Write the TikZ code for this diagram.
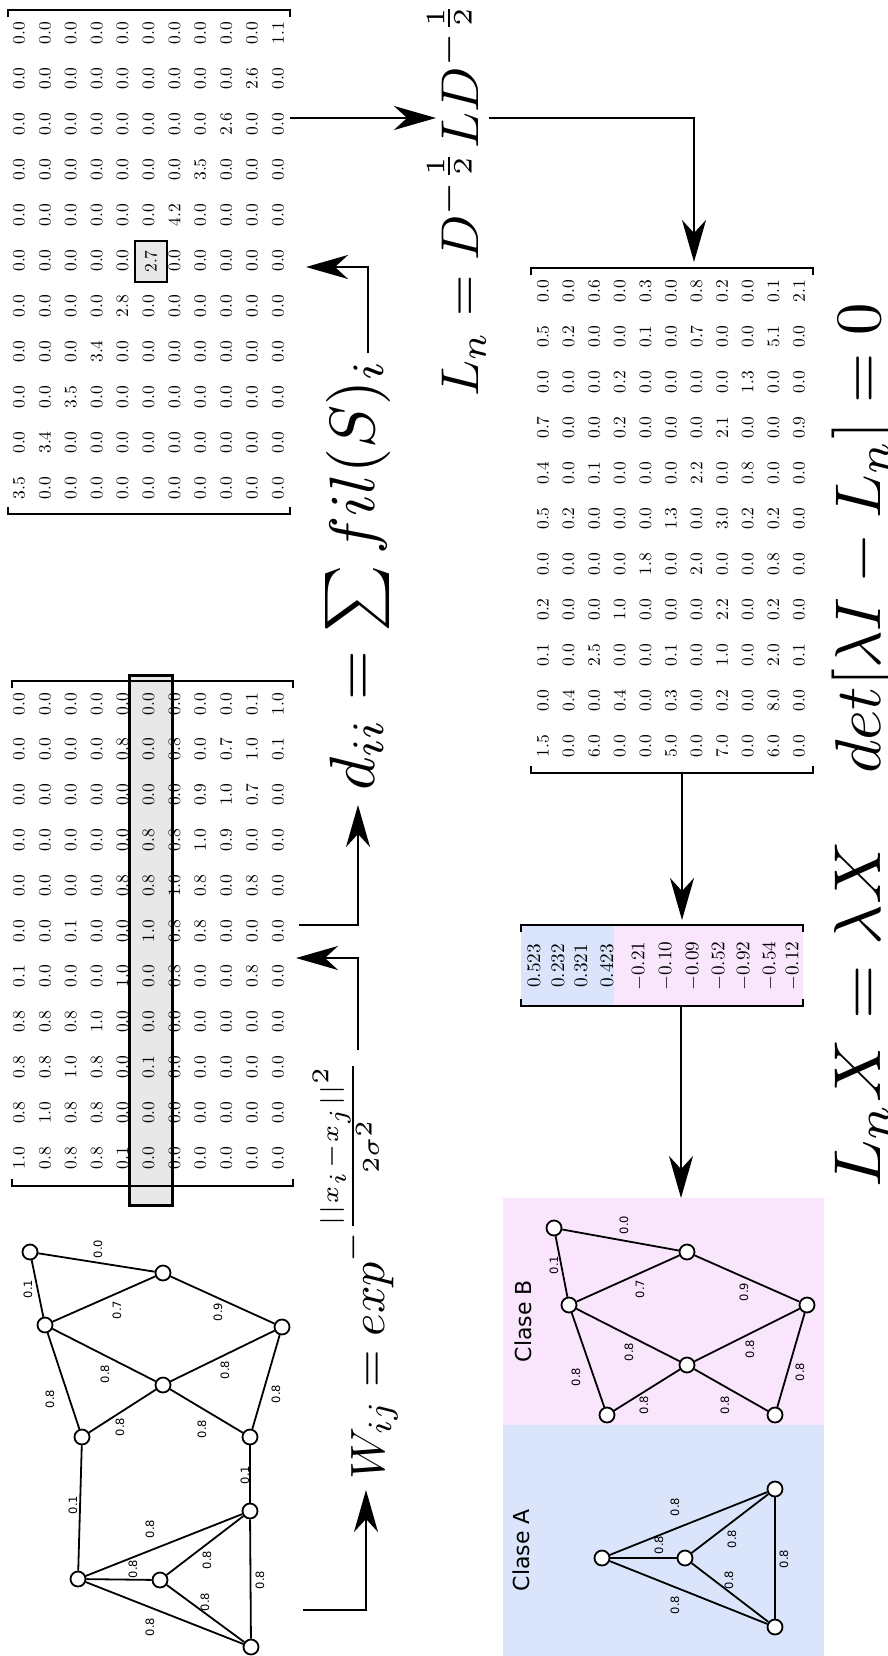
\documentclass[tikz,border=0pt]{standalone}
\usepackage{fontspec}
\usepackage{graphicx}
\usetikzlibrary{arrows.meta}
\newfontfamily\lblfont{DejaVu Sans}
\definecolor{clsA}{RGB}{218,229,252}
\definecolor{clsB}{RGB}{249,229,252}
\definecolor{hl}{RGB}{232,232,232}
\newcommand\E[1]{\scalebox{1.75}{#1}}
\newcommand\mybrk[4]{%
  \draw[bthin] ({#1},{#3+#4}) -- ({#1},{#3}) -- ({#2},{#3}) -- ({#2},{#3+#4});
  \draw[bthick] ({#1+38},{#3}) -- ({#2-38},{#3});}
\begin{document}
\begin{tikzpicture}[x=1pt,y=-1pt,
  ent/.style={rotate=90, inner sep=0pt, font=\fontsize{10}{12}\selectfont},
  vent/.style={rotate=90, inner sep=0pt},
  gnode/.style={circle, draw, line width=1.8pt, fill=white, minimum size=15pt, inner sep=0pt},
  gedge/.style={line width=1.8pt},
  glabel/.style={rotate=90, inner sep=0pt, font=\lblfont\fontsize{11.5}{12}\selectfont},
  clase/.style={rotate=90, anchor=base, inner sep=0pt, font=\lblfont\fontsize{22}{24}\selectfont},
  flow/.style={line width=2.5pt, -{Stealth[length=42pt,width=24pt,inset=13pt]}},
  bthin/.style={line width=1.2pt},
  bthick/.style={line width=2.4pt},
  formula/.style={rotate=90, inner sep=0pt, anchor=base west},
]
\useasboundingbox (0,0) rectangle (888,1656);
\fill[white] (0,0) rectangle (888,1656);

% ---------- class regions ----------
\fill[clsB] (503,1198) rectangle (824,1425);
\fill[clsA] (503,1425) rectangle (824,1656);

% ---------- D matrix ----------
\foreach \i in {1,...,11} {
  \foreach \k in {1,...,11} {
    \ifnum\i=\k\relax\else
      \node[ent] (D-\i-\k) at ({19+25.9*(\i-1)},{488-45.5*(\k-1)}) {\E{0.0}};
    \fi
  }
}
\foreach \v [count=\i] in {3.5,3.4,3.5,3.4,2.8,2.7,4.2,3.5,2.6,2.6,1.1} {
  \ifnum\i=6\relax\else
    \node[ent] (D-\i-\i) at ({19+25.9*(\i-1)},{488-45.5*(\i-1)}) {\E{\v}};
  \fi
}
\node[ent, draw, line width=2.4pt, fill=hl, minimum width=41pt, minimum height=32pt] (D-6-6) at (151,261.5) {\E{2.7}};
\mybrk{8}{290}{10}{7}
\mybrk{8}{290}{514}{-7}

% ---------- W matrix ----------
\node[fill=hl, minimum width=42pt, minimum height=529pt, inner sep=0pt] (Wrow) at (151,940.5) {};
\foreach \col [count=\k] in {
  {1.0,0.8,0.8,0.8,0.1,0.0,0.0,0.0,0.0,0.0,0.0},
  {0.8,1.0,0.8,0.8,0.0,0.0,0.0,0.0,0.0,0.0,0.0},
  {0.8,0.8,1.0,0.8,0.0,0.1,0.0,0.0,0.0,0.0,0.0},
  {0.8,0.8,0.8,1.0,0.0,0.0,0.0,0.0,0.0,0.0,0.0},
  {0.1,0.0,0.0,0.0,1.0,0.0,0.8,0.0,0.0,0.8,0.0},
  {0.0,0.0,0.1,0.0,0.0,1.0,0.8,0.8,0.0,0.0,0.0},
  {0.0,0.0,0.0,0.0,0.8,0.8,1.0,0.8,0.0,0.8,0.0},
  {0.0,0.0,0.0,0.0,0.0,0.8,0.8,1.0,0.9,0.0,0.0},
  {0.0,0.0,0.0,0.0,0.0,0.0,0.0,0.9,1.0,0.7,0.0},
  {0.0,0.0,0.0,0.0,0.8,0.0,0.8,0.0,0.7,1.0,0.1},
  {0.0,0.0,0.0,0.0,0.0,0.0,0.0,0.0,0.0,0.1,1.0}} {
  \foreach \v [count=\i] in \col {
    \node[ent] (W-\i-\k) at ({19+25.9*(\i-1)},{1158-45.4*(\k-1)}) {\E{\v}};
  }
}
\draw[line width=2.7pt] (Wrow.south west) rectangle (Wrow.north east);
\mybrk{12}{293}{681}{7}
\mybrk{12}{293}{1186}{-7}

% ---------- Ln matrix ----------
\foreach \col [count=\k] in {
  {1.5,0.0,6.0,0.0,0.0,5.0,0.0,7.0,0.0,6.0,0.0},
  {0.0,0.4,0.0,0.4,0.0,0.3,0.0,0.2,0.0,8.0,0.0},
  {0.1,0.0,2.5,0.0,0.0,0.1,0.0,1.0,0.0,2.0,0.1},
  {0.2,0.0,0.0,1.0,0.0,0.0,0.0,2.2,0.0,0.2,0.0},
  {0.0,0.0,0.0,0.0,1.8,0.0,2.0,0.0,0.0,0.8,0.0},
  {0.5,0.2,0.0,0.0,0.0,1.3,0.0,3.0,0.2,0.2,0.0},
  {0.4,0.0,0.1,0.0,0.0,0.0,2.2,0.0,0.8,0.0,0.0},
  {0.7,0.0,0.0,0.2,0.0,0.0,0.0,2.1,0.0,0.0,0.9},
  {0.0,0.0,0.0,0.2,0.0,0.0,0.0,0.0,1.3,0.0,0.0},
  {0.5,0.2,0.0,0.0,0.1,0.0,0.7,0.0,0.0,5.1,0.0},
  {0.0,0.0,0.6,0.0,0.3,0.0,0.8,0.2,0.0,0.1,2.1}} {
  \foreach \v [count=\i] in \col {
    \node[ent] (L-\i-\k) at ({543+25.6*(\i-1)},{746-45.5*(\k-1)}) {\E{\v}};
  }
}
\mybrk{531}{813}{268}{7}
\mybrk{531}{813}{773}{-7}

% ---------- eigenvector ----------
\fill[clsA] (521,925) rectangle (614,1006);
\fill[clsB] (614,925) rectangle (803,1006);
\foreach \v/\x [count=\i] in {0.523/534,0.232/558,0.321/581,0.423/607,-0.21/639,-0.10/666,-0.09/693,-0.52/719,-0.92/744,-0.54/770,-0.12/793} {
  \node[vent] (X-\i) at (\x,966) {\resizebox{!}{12.4pt}{$\v$}};
}
\mybrk{521}{803}{925}{7}
\mybrk{521}{803}{1006}{-7}

% ---------- formulas ----------
\node[formula] (fW) at (384,1480) {\resizebox{422pt}{!}{$W_{ij} = exp^{-\frac{||x_i - x_j||^2}{2\sigma^2}}$}};
\node[formula] (fd) at (374,791) {\resizebox{431pt}{!}{$d_{ii} = \sum fil(S)_i$}};
\node[formula] (fL) at (478,397) {\resizebox{397pt}{!}{$L_n = D^{-\frac{1}{2}}LD^{-\frac{1}{2}}$}};
\node[formula] (fdet) at (880,774) {\resizebox{471pt}{!}{$det[\lambda I - L_n] = 0$}};
\node[formula] (fLX) at (880,1188) {\resizebox{347pt}{46pt}{$L_nX = \lambda X$}};

% ---------- flow arrows ----------
\coordinate (a1s) at (303,1610); \coordinate (a1e) at (366,1490);
\draw[flow] (a1s) -| (a1e);
\coordinate (a2s) at (358,1050); \coordinate (a2e) at (296,958);
\draw[flow] (a2s) |- (a2e);
\coordinate (a3s) at (299,925); \coordinate (a3e) at (358,805);
\draw[flow] (a3s) -| (a3e);
\coordinate (a4s) at (368,353); \coordinate (a4e) at (306,267);
\draw[flow] (a4s) |- (a4e);
\coordinate (a5s) at (290,118); \coordinate (a5e) at (436,118);
\draw[flow] (a5s) -- (a5e);
\coordinate (a6s) at (489,118); \coordinate (a6e) at (694,262);
\draw[flow] (a6s) -| (a6e);
\coordinate (a7s) at (682,773); \coordinate (a7e) at (682,920);
\draw[flow] (a7s) -- (a7e);
\coordinate (a8s) at (681,1006); \coordinate (a8e) at (681,1198);
\draw[flow] (a8s) -- (a8e);

% ---------- input graph ----------
\node[gnode] (g11) at (30,1252) {};
\node[gnode] (g9) at (163,1273) {};
\node[gnode] (g10) at (45,1325) {};
\node[gnode] (g8) at (282,1327) {};
\node[gnode] (g7) at (163,1385) {};
\node[gnode] (g5) at (82,1437) {};
\node[gnode] (g6) at (250,1437) {};
\node[gnode] (g3) at (250,1511) {};
\node[gnode] (g1) at (78,1579) {};
\node[gnode] (g2) at (160,1580) {};
\node[gnode] (g4) at (251,1647) {};
\foreach \a/\b in {g11/g9,g11/g10,g10/g9,g9/g8,g10/g7,g8/g7,g10/g5,g8/g6,g7/g5,g7/g6,g5/g1,g6/g3,g1/g3,g1/g2,g2/g3,g1/g4,g2/g4,g3/g4}
  \draw[gedge] (\a) -- (\b);
\foreach \t/\x/\y [count=\n] in {0.0/98/1249,0.1/28/1289,0.7/117/1310,0.9/218/1312,0.8/105/1374,0.8/225/1370,0.8/50/1399,0.8/276/1394,0.8/120/1427,0.8/202/1429,0.1/73/1505,0.1/245/1475,0.8/150/1529,0.8/133/1569,0.8/207/1560,0.8/150/1627,0.8/205/1602,0.8/260/1580}
  \node[glabel] (gl\n) at (\x,\y) {\t};

% ---------- class B graph ----------
\node[clase] (clB) at (531,1321) {Clase B};
\node[gnode] (b11) at (554,1228) {};
\node[gnode] (b9) at (687,1252) {};
\node[gnode] (b10) at (569,1305) {};
\node[gnode] (b8) at (807,1305) {};
\node[gnode] (b7) at (687,1365) {};
\node[gnode] (b5) at (607,1415) {};
\node[gnode] (b6) at (775,1415) {};
\foreach \a/\b in {b11/b9,b11/b10,b10/b9,b9/b8,b10/b7,b8/b7,b10/b5,b8/b6,b7/b5,b7/b6}
  \draw[gedge] (\a) -- (\b);
\foreach \t/\x/\y [count=\n] in {0.0/624/1225,0.1/554/1265,0.7/640/1289,0.9/744/1292,0.8/629/1352,0.8/750/1349,0.8/576/1377,0.8/800/1372,0.8/644/1405,0.8/725/1405}
  \node[glabel] (bl\n) at (\x,\y) {\t};

% ---------- class A graph ----------
\node[clase] (clA) at (529,1550) {Clase A};
\node[gnode] (a1) at (602,1558) {};
\node[gnode] (a2) at (685,1558) {};
\node[gnode] (a3) at (775,1489) {};
\node[gnode] (a4) at (775,1627) {};
\foreach \a/\b in {a1/a2,a1/a3,a1/a4,a2/a3,a2/a4,a3/a4}
  \draw[gedge] (\a) -- (\b);
\foreach \t/\x/\y [count=\n] in {0.8/675/1507,0.8/659/1545,0.8/732/1539,0.8/784/1559,0.8/729/1580,0.8/675/1605}
  \node[glabel] (al\n) at (\x,\y) {\t};
\end{tikzpicture}
\end{document}
